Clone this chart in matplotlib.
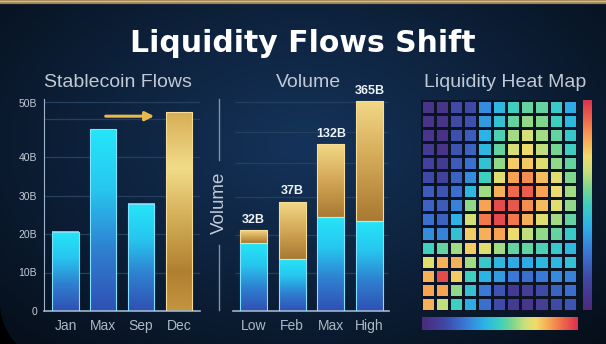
import numpy as np
import matplotlib
matplotlib.use('Agg')
import matplotlib.pyplot as plt
from matplotlib.colors import LinearSegmentedColormap
from matplotlib.patches import Polygon

# values (units of the drawn scale, B)
flow_months = ['Jan', 'Max', 'Sep', 'Dec']
flow_values = [20.6, 47.2, 27.8, 51.6]
flow_ticks = [0, 10, 20, 30, 40, 54]
flow_tick_labels = ['0', '10B', '20B', '30B', '40B', '50B']
flow_grid = [10, 20, 30, 40, 50, 54.3]

vol_cats = ['Low', 'Feb', 'Max', 'High']
vol_base = [17.7, 13.6, 24.5, 23.5]
vol_top = [3.3, 14.8, 18.8, 31.1]
vol_labels = ['32B', '37B', '132B', '365B']
vol_grid = [9.9, 19.7, 29.6, 38.4, 46.5, 54.3]

# 15 rows x 11 columns, top row first
heat = [
    [0.05, 0.05, 0.15, 0.15, 0.32, 0.42, 0.50, 0.55, 0.55, 0.48, 0.38],
    [0.05, 0.05, 0.15, 0.17, 0.35, 0.45, 0.55, 0.60, 0.58, 0.50, 0.42],
    [0.06, 0.04, 0.17, 0.20, 0.40, 0.52, 0.62, 0.68, 0.62, 0.55, 0.47],
    [0.08, 0.05, 0.18, 0.22, 0.42, 0.55, 0.68, 0.72, 0.65, 0.57, 0.50],
    [0.12, 0.08, 0.20, 0.25, 0.45, 0.60, 0.75, 0.76, 0.70, 0.60, 0.55],
    [0.15, 0.12, 0.22, 0.32, 0.50, 0.70, 0.82, 0.85, 0.78, 0.70, 0.58],
    [0.20, 0.18, 0.25, 0.42, 0.62, 0.80, 0.90, 0.92, 0.82, 0.72, 0.62],
    [0.22, 0.20, 0.30, 0.60, 0.82, 0.95, 0.93, 0.85, 0.78, 0.70, 0.60],
    [0.25, 0.22, 0.40, 0.68, 0.88, 0.95, 0.88, 0.80, 0.70, 0.62, 0.55],
    [0.32, 0.30, 0.45, 0.75, 0.80, 0.82, 0.72, 0.65, 0.60, 0.55, 0.48],
    [0.50, 0.55, 0.62, 0.75, 0.70, 0.62, 0.55, 0.55, 0.52, 0.48, 0.42],
    [0.70, 0.80, 0.80, 0.62, 0.48, 0.42, 0.38, 0.38, 0.42, 0.42, 0.45],
    [0.80, 0.95, 0.75, 0.50, 0.40, 0.35, 0.28, 0.25, 0.28, 0.32, 0.30],
    [0.82, 0.82, 0.60, 0.45, 0.28, 0.18, 0.08, 0.10, 0.15, 0.22, 0.25],
    [0.80, 0.65, 0.50, 0.38, 0.25, 0.15, 0.08, 0.06, 0.10, 0.15, 0.18],
]

W, H = 606, 344
plt.rcParams['font.family'] = ['Liberation Sans', 'DejaVu Sans']

heat_cmap = LinearSegmentedColormap.from_list('heat', [
    (0.0, '#4c2a7a'), (0.15, '#3f49a6'), (0.28, '#3a7ad8'), (0.40, '#2cb3e6'),
    (0.50, '#3ccfc0'), (0.58, '#7fd68c'), (0.66, '#c8e07a'), (0.73, '#f2dc6a'),
    (0.82, '#f7a352'), (0.90, '#f06a4a'), (1.0, '#dc3050')])
blue_cmap = LinearSegmentedColormap.from_list('blue', ['#3050b4', '#2f7fd0', '#27c6ef', '#25e6f8'])
gold_cmap = LinearSegmentedColormap.from_list('gold', [
    (0.0, '#c49440'), (0.2, '#b08030'), (0.5, '#d8b45c'), (0.72, '#f2dc88'), (1.0, '#d6ae55')])
gold2_cmap = LinearSegmentedColormap.from_list('gold2', ['#a87932', '#d2a755', '#f2d886'])
vgrad = np.linspace(0, 1, 256).reshape(-1, 1)


def px_axes(x0, y0, x1, y1):
    # pixel box (top-left origin) -> figure axes
    return fig.add_axes([x0 / W, 1 - y1 / H, (x1 - x0) / W, (y1 - y0) / H])


def grad_bar(ax, bar, cmap, edge):
    x0, y0 = bar.get_x(), bar.get_y()
    ax.imshow(vgrad, cmap=cmap, origin='lower', aspect='auto', zorder=2,
              extent=(x0, x0 + bar.get_width(), y0, y0 + bar.get_height()))
    bar.set_edgecolor(edge)
    bar.set_linewidth(0.8)


fig = plt.figure(figsize=(W / 100, H / 100), dpi=100)

# background
bg = fig.add_axes([0, 0, 1, 1])
yy, xx = np.mgrid[0:1:344j, 0:1:606j]
r = np.sqrt(((xx - 0.5) / 0.75) ** 2 + ((yy - 0.42) / 0.85) ** 2)
bg_cmap = LinearSegmentedColormap.from_list('bg', ['#15335a', '#0d213b', '#060e19'])
bg.imshow(np.clip(r, 0, 1), cmap=bg_cmap, extent=(0, W, H, 0), aspect='auto')
bg.plot([0, W], [1.5, 1.5], color='#9c8255', lw=3, solid_capstyle='butt')
bg.plot([0, W], [0.5, 0.5], color='#d9bd84', lw=1)
th = np.radians(np.linspace(180, 136, 30))
corner = np.column_stack([59 + 59 * np.cos(th), 303 + 59 * np.sin(th)])
corner = np.vstack([corner, [[0, H]]])
bg.add_patch(Polygon(corner, closed=True, color='black', lw=0))
bg.set_xlim(0, W)
bg.set_ylim(H, 0)
bg.axis('off')

fig.text(0.5, 1 - 52 / H, 'Liquidity Flows Shift', ha='center', va='baseline',
         fontsize=21.5, weight='bold', color='white', family='DejaVu Sans')
sub_kw = dict(ha='center', va='baseline', fontsize=14, color='#c0c9d4')
fig.text(118 / W, 1 - 87 / H, 'Stablecoin Flows', **sub_kw)
fig.text(308 / W, 1 - 87 / H, 'Volume', **sub_kw)
fig.text(505 / W, 1 - 87 / H, 'Liquidity Heat Map', **sub_kw)

# ---- Stablecoin flows ----
ax1 = px_axes(44, 99.25, 200, 311)
ax1.patch.set_visible(False)
x = np.arange(len(flow_months))
bars = ax1.bar(x, flow_values, width=0.69, color='none', zorder=3)
for i, b in enumerate(bars):
    if i == len(bars) - 1:
        grad_bar(ax1, b, gold_cmap, '#f6dc96')
    else:
        grad_bar(ax1, b, blue_cmap, '#7fe3ff')
for g in flow_grid:
    ax1.axhline(g, color='#25405f', lw=0.9, zorder=1)
ax1.annotate('', xy=(2.42, 50.6), xytext=(0.99, 50.6),
             arrowprops=dict(arrowstyle='-|>', color='#e9b84e', lw=2.2, mutation_scale=13))
ax1.set_xlim(-0.569, 3.558)
ax1.set_ylim(0, 55)
ax1.set_xticks(x)
ax1.set_xticklabels(flow_months)
ax1.set_yticks(flow_ticks)
ax1.set_yticklabels(flow_tick_labels)
ax1.tick_params(axis='y', length=0, pad=5, labelsize=7.5, labelcolor='#c3ccd6')
ax1.tick_params(axis='x', length=0, pad=6, labelsize=10, labelcolor='#aeb8c4')
for s in ['top', 'right']:
    ax1.spines[s].set_visible(False)
ax1.spines['left'].set_color('#9fb3cc')
ax1.spines['bottom'].set_color('#9fb3cc')
ax1.spines['bottom'].set_linewidth(1.2)

# ---- Volume ----
ax2 = px_axes(219, 99.25, 390, 311)
ax2.patch.set_visible(False)
x2 = np.arange(len(vol_cats))
low = ax2.bar(x2, vol_base, width=0.70, color='none', zorder=3)
up = ax2.bar(x2, vol_top, bottom=vol_base, width=0.70, color='none', zorder=3)
for b in low:
    grad_bar(ax2, b, blue_cmap, '#7fe3ff')
for b in up:
    grad_bar(ax2, b, gold2_cmap, '#f6dc96')
for xi, b, t, lab in zip(x2, vol_base, vol_top, vol_labels):
    ax2.annotate(lab, (xi, b + t), xytext=(0, 3), textcoords='offset points',
                 ha='center', va='bottom', fontsize=9, color='#eef3f8', weight='bold')
ax2.hlines(vol_grid, -0.48, 3.47, color='#25405f', lw=0.9, zorder=1)
ax2.set_xlim(-0.891, 3.527)
ax2.set_ylim(0, 55)
ax2.set_xticks(x2)
ax2.set_xticklabels(vol_cats)
ax2.set_yticks([])
ax2.tick_params(axis='x', length=0, pad=6, labelsize=10, labelcolor='#aeb8c4')
for s in ['top', 'right', 'left']:
    ax2.spines[s].set_visible(False)
ax2.spines['bottom'].set_color('#9fb3cc')
ax2.spines['bottom'].set_linewidth(1.2)
ax2.spines['bottom'].set_bounds(-0.53, 3.49)
ax2.plot([0, 0], [0.005, 0.31], transform=ax2.transAxes, color='#7d92ad', lw=1, clip_on=False)
ax2.plot([0, 0], [0.713, 1.0], transform=ax2.transAxes, color='#7d92ad', lw=1, clip_on=False)
ax2.text(0, 0.51, 'Volume', rotation=90, transform=ax2.transAxes, ha='center', va='center',
         fontsize=13.5, color='#c0c9d4')

# ---- Heat map ----
ax3 = px_axes(420.5, 99.5, 577, 311)
data = np.array(heat)
ax3.pcolormesh(data, cmap=heat_cmap, vmin=0, vmax=1, edgecolors='#0a1424', linewidth=0.9)
ax3.set_xlim(0, data.shape[1])
ax3.set_ylim(data.shape[0], 0)
ax3.axis('off')

cb_v = px_axes(583, 99.5, 592, 310)
cb_v.imshow(vgrad, cmap=heat_cmap, origin='lower', aspect='auto')
cb_v.axis('off')

cb_h = px_axes(421.7, 317, 576.7, 329.5)
cb_h.imshow(vgrad.T, cmap=heat_cmap, aspect='auto')
cb_h.axis('off')

fig.savefig('out.png', dpi=100)
